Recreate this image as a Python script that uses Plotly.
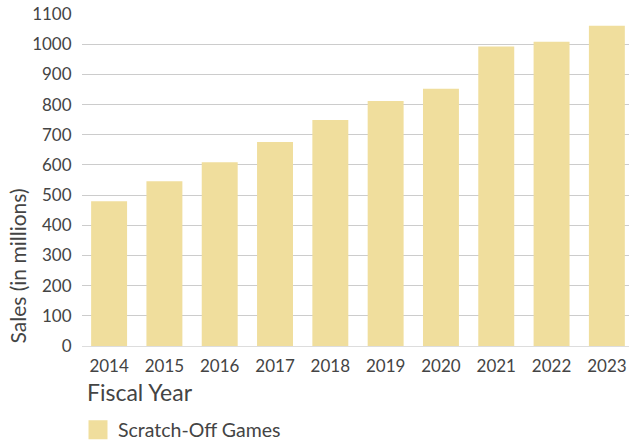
import plotly.graph_objects as go

years = ["2014", "2015", "2016", "2017", "2018", "2019", "2020", "2021", "2022", "2023"]
sales = [480, 546, 609, 676, 749, 812, 852, 992, 1008, 1061]
y_ticks = [0, 100, 200, 300, 400, 500, 600, 700, 800, 900, 1000, 1100]

bar_color = "#F0DE9D"
text_color = "#444444"
font_family = "Lato"

fig = go.Figure()
fig.add_trace(go.Bar(
    x=years, y=sales, marker=dict(color=bar_color, line=dict(width=0)),
    name="Scratch-Off Games", showlegend=False,
))
fig.add_trace(go.Scatter(
    x=[None], y=[None], mode="markers",
    marker=dict(symbol="square", size=16, color=bar_color, line=dict(width=3, color=bar_color)),
    name="Scratch-Off Games", showlegend=True,
))

plot_h = 442 - 14 - 96
plot_w = 629 - 82

fig.update_layout(
    width=629, height=442,
    margin=dict(l=82, r=0, t=14, b=96, autoexpand=False),
    paper_bgcolor="white", plot_bgcolor="white",
    font=dict(family=font_family, color=text_color, size=17),
    bargap=0.35,
    showlegend=True,
    legend=dict(orientation="h", x=-4 / plot_w, xanchor="left",
                y=-(430 - 346) / plot_h, yanchor="middle",
                font=dict(size=19.5, color=text_color), itemsizing="trace"),
    xaxis=dict(
        type="category", range=[-0.49, 9.4],
        showgrid=False, zeroline=False, showline=False,
        ticks="outside", ticklen=5, tickcolor="rgba(0,0,0,0)",
        tickfont=dict(size=17, color=text_color),
    ),
    yaxis=dict(
        range=[0, 1100], tickvals=y_ticks,
        showgrid=True, gridcolor="#CCCCCC", gridwidth=1,
        zeroline=True, zerolinecolor="#DDDDDD", zerolinewidth=1,
        showline=False, ticks="outside", ticklen=6, tickcolor="rgba(0,0,0,0)",
        tickfont=dict(size=17, color=text_color),
    ),
    annotations=[
        dict(
            text="Fiscal Year", xref="paper", yref="paper",
            x=0.006, xanchor="left", y=-(392 - 346) / plot_h, yanchor="middle",
            showarrow=False, font=dict(size=23, color=text_color),
        ),
        dict(
            text="Sales (in millions)", xref="paper", yref="paper",
            x=(17 - 82) / plot_w, xanchor="center", y=0, yanchor="bottom",
            textangle=-90, showarrow=False, font=dict(size=21, color=text_color),
        ),
    ],
)

fig.write_html("out.html")
